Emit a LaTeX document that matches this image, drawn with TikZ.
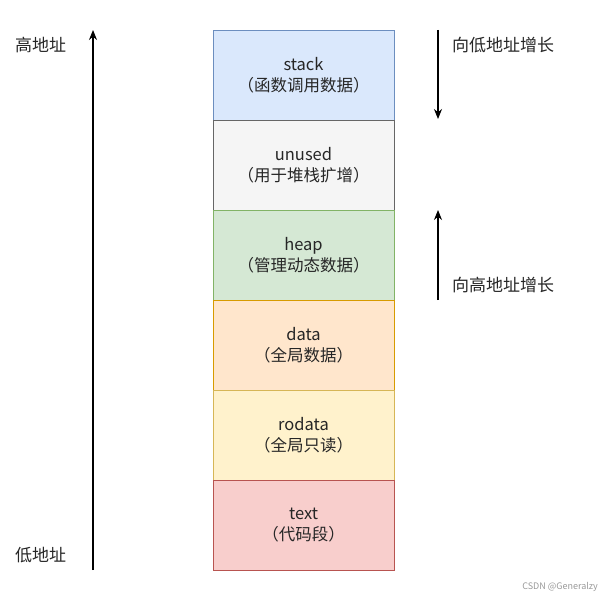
\documentclass[tikz,border=0pt]{standalone}
\usepackage{fontspec}
\setmainfont{Noto Sans CJK SC}
\usetikzlibrary{positioning,arrows.meta}

\definecolor{stackfill}{HTML}{DAE8FC}\definecolor{stackline}{HTML}{6C8EBF}
\definecolor{unusedfill}{HTML}{F5F5F5}\definecolor{unusedline}{HTML}{666666}
\definecolor{heapfill}{HTML}{D5E8D4}\definecolor{heapline}{HTML}{82B366}
\definecolor{datafill}{HTML}{FFE6CC}\definecolor{dataline}{HTML}{D79B00}
\definecolor{rodatafill}{HTML}{FFF2CC}\definecolor{rodataline}{HTML}{D6B656}
\definecolor{textfill}{HTML}{F8CECC}\definecolor{textline}{HTML}{B85450}

\begin{document}
\begin{tikzpicture}[
    x=1pt, y=-1pt,
    node distance=90pt,
    seg/.style={rectangle, draw, minimum width=181pt, minimum height=90pt, inner sep=0pt, align=center, text=black!85, font=\fontsize{16.5}{21.5}\selectfont},
    side/.style={text=black!85, font=\fontsize{17}{18}\selectfont, inner sep=0pt},
    arrow/.style={-{Stealth[length=10pt,width=8pt]}, line width=1.1pt}
]
    \useasboundingbox (0,0) rectangle (605,599);

    % Memory segments
    \node[seg, fill=stackfill, draw=stackline] (stack) at (303.5,75) {stack\\（函数调用数据）};
    \node[seg, fill=unusedfill, draw=unusedline, below of=stack] (unused) {unused\\（用于堆栈扩增）};
    \node[seg, fill=heapfill, draw=heapline, below of=unused] (heap) {heap\\（管理动态数据）};
    \node[seg, fill=datafill, draw=dataline, below of=heap] (data) {data\\（全局数据）};
    \node[seg, fill=rodatafill, draw=rodataline, below of=data] (rodata) {rodata\\（全局只读）};
    \node[seg, fill=textfill, draw=textline, below of=rodata] (text) {text\\（代码段）};

    % Address axis
    \coordinate (low) at (93,570);
    \coordinate (high) at (93,30);
    \draw[arrow] (low) -- (high);
    \node[side, anchor=west] (highlbl) at (15,45) {高地址};
    \node[side, anchor=west] (lowlbl) at (15,555) {低地址};

    % Growth directions
    \coordinate (stacktop) at (438,30);
    \coordinate (stackend) at (438,119);
    \coordinate (heapbot) at (438,300);
    \coordinate (heapend) at (438,210);
    \draw[arrow] (stacktop) -- (stackend);
    \draw[arrow] (heapbot) -- (heapend);
    \node[side, anchor=west] (downlbl) at (452,45) {向低地址增长};
    \node[side, anchor=west] (uplbl) at (452,285) {向高地址增长};

    % Watermark
    \node[anchor=east, text=black!40, font=\fontsize{9}{10}\selectfont, inner sep=0pt] (mark) at (598,587) {CSDN @Generalzy};
\end{tikzpicture}
\end{document}
